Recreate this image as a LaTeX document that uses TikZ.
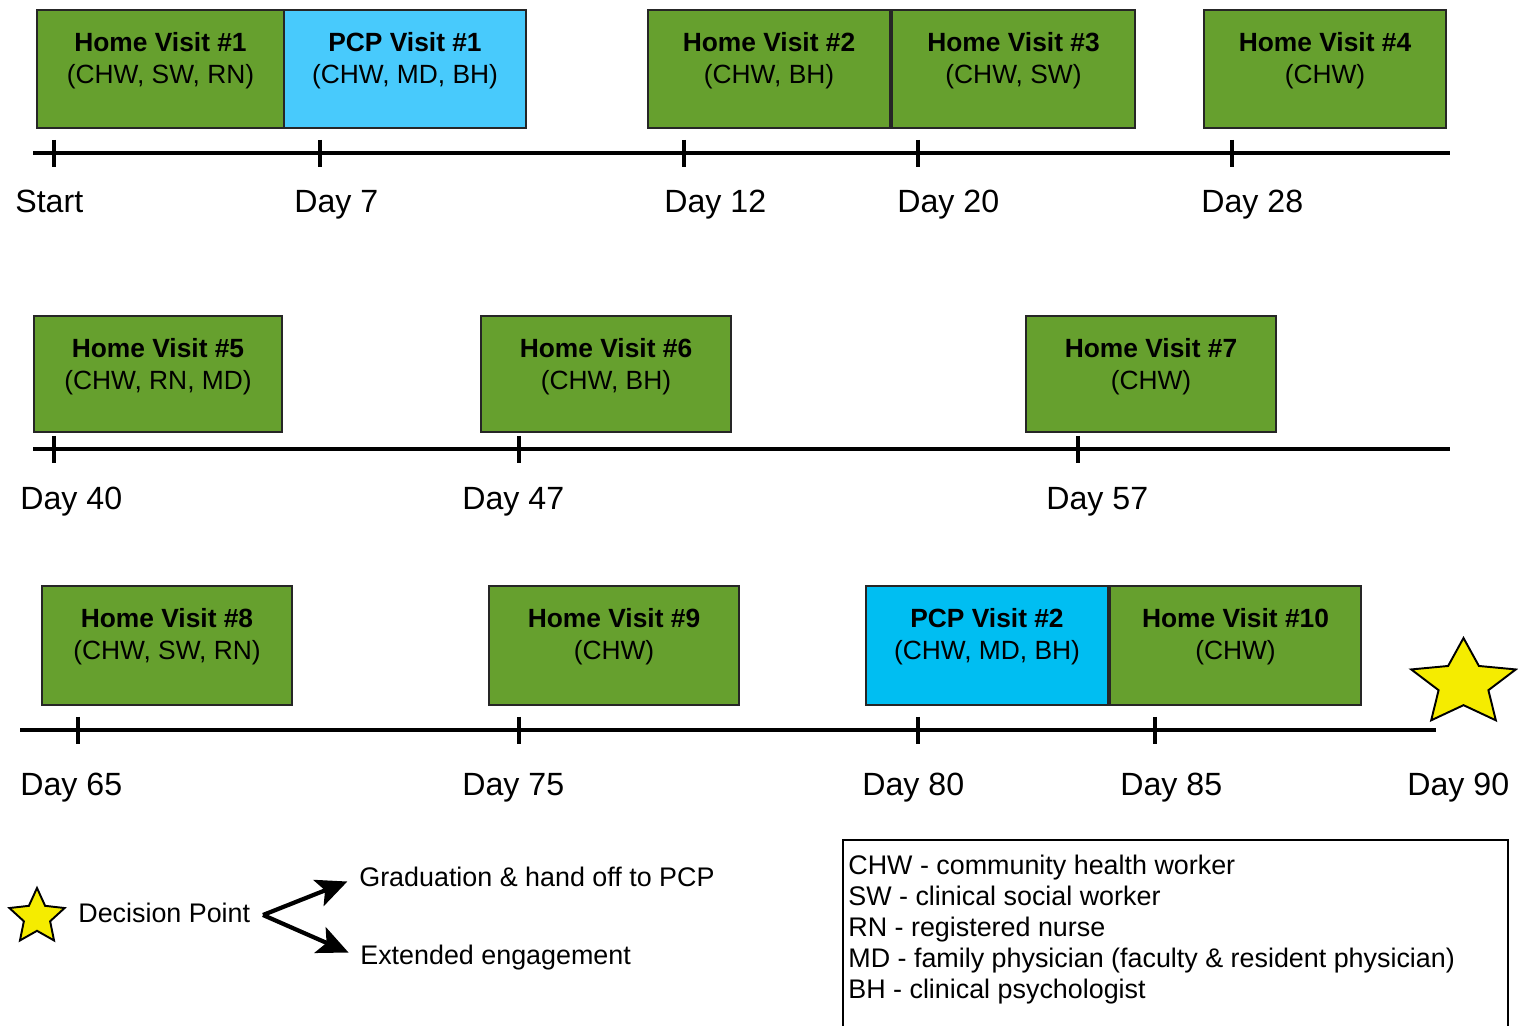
\documentclass[tikz,border=0pt]{standalone}
\usepackage{fontspec}
\setmainfont{Liberation Sans}
\usetikzlibrary{arrows.meta,shapes.geometric}
\definecolor{hvgreen}{RGB}{102,160,46}
\definecolor{pcplight}{RGB}{72,202,252}
\definecolor{pcpcyan}{RGB}{0,190,242}
\definecolor{staryellow}{RGB}{245,236,0}

\begin{document}
\begin{tikzpicture}[x=0.02cm,y=-0.02cm,
	visit/.style={draw=black!85,line width=0.9pt},
	visittext/.style={anchor=north,align=center,inner sep=0pt,font=\fontsize{15}{18.2}\selectfont},
	daytext/.style={anchor=base west,inner sep=0pt,font=\fontsize{18.3}{22}\selectfont},
	timeline/.style={line width=2.3pt},
	daytick/.style={line width=2.1pt},
	legendtext/.style={anchor=base west,inner sep=0pt,font=\fontsize{15.3}{17.6}\selectfont},
	decision/.style={star,star points=5,star point ratio=2.1,draw=black,line width=1.1pt,fill=staryellow,inner sep=0pt},
	forkarrow/.style={line width=2.4pt,-{Stealth[length=0.62cm,width=0.56cm,inset=0.14cm]},shorten >=0.25cm}]
\useasboundingbox (0,0) rectangle (1518,1026);

% the visit boxes
\foreach \name/\xa/\xb/\ya/\yb/\col/\title/\sub in {
	% first row
	hv1/37/284/10/128/hvgreen/Home Visit \#1/{(CHW, SW, RN)},
	pcp1/284/526/10/128/pcplight/PCP Visit \#1/{(CHW, MD, BH)},
	hv2/648/890/10/128/hvgreen/Home Visit \#2/{(CHW, BH)},
	hv3/892/1135/10/128/hvgreen/Home Visit \#3/{(CHW, SW)},
	hv4/1204/1446/10/128/hvgreen/Home Visit \#4/{(CHW)},
	% second row
	hv5/34/282/316/432/hvgreen/Home Visit \#5/{(CHW, RN, MD)},
	hv6/481/731/316/432/hvgreen/Home Visit \#6/{(CHW, BH)},
	hv7/1026/1276/316/432/hvgreen/Home Visit \#7/{(CHW)},
	% third row
	hv8/42/292/586/705/hvgreen/Home Visit \#8/{(CHW, SW, RN)},
	hv9/489/739/586/705/hvgreen/Home Visit \#9/{(CHW)},
	pcp2/866/1108/586/705/pcpcyan/PCP Visit \#2/{(CHW, MD, BH)},
	hv10/1110/1361/586/705/hvgreen/Home Visit \#10/{(CHW)}} {
	\draw[visit,fill=\col] (\xa,\ya) rectangle (\xb,\yb);
	\node[visittext] (\name) at ({(\xa+\xb)/2},\ya+22.5) {\textbf{\title}\\\sub};
}

% first timeline
\draw[timeline] (33,153) -- (1450,153);
\foreach \tx/\lx/\lab in {54/15/Start, 320/294/Day 7, 684/664/Day 12, 918/897/Day 20, 1232/1201/Day 28} {
	\draw[daytick] (\tx,140) -- (\tx,167);
	\node[daytext] (a\tx) at (\lx,212.5) {\lab};
}

% second timeline
\draw[timeline] (33,449) -- (1450,449);
\foreach \tx/\lx/\lab in {54/20/Day 40, 519/462/Day 47, 1078/1046/Day 57} {
	\draw[daytick] (\tx,436) -- (\tx,463);
	\node[daytext] (b\tx) at (\lx,509.5) {\lab};
}

% third timeline
\draw[timeline] (20,730) -- (1436,730);
\foreach \tx/\lx/\lab in {78/20/Day 65, 519/462/Day 75, 918/862/Day 80, 1155/1120/Day 85} {
	\draw[daytick] (\tx,717) -- (\tx,744);
	\node[daytext] (c\tx) at (\lx,795.5) {\lab};
}
\node[daytext] (c90) at (1407,795.5) {Day 90};
\node[decision,minimum size=2cm,transform shape,xscale=1.1,yscale=0.91] (goal) at (1463.5,683.5) {};

% decision point legend
\node[decision,minimum size=1.16cm] (dstar) at (37,917) {};
\node[legendtext] (dp) at (78,922.5) {Decision Point};
\coordinate (fork) at (263,915);
\node[legendtext] (grad) at (359,886.5) {Graduation \& hand off to PCP};
\node[legendtext] (ext) at (360,964.5) {Extended engagement};
\draw[forkarrow] (fork) -- (grad.west);
\draw[forkarrow] (fork) -- (ext.west);

% abbreviations
\draw[line width=1pt] (843,1040) |- (1508,840) -- (1508,1040);
\node[legendtext,anchor=north west,align=left] (abbrev) at (848,854.5) {CHW - community health worker\\
	SW - clinical social worker\\
	RN - registered nurse\\
	MD - family physician (faculty \& resident physician)\\
	BH - clinical psychologist};
\end{tikzpicture}
\end{document}
